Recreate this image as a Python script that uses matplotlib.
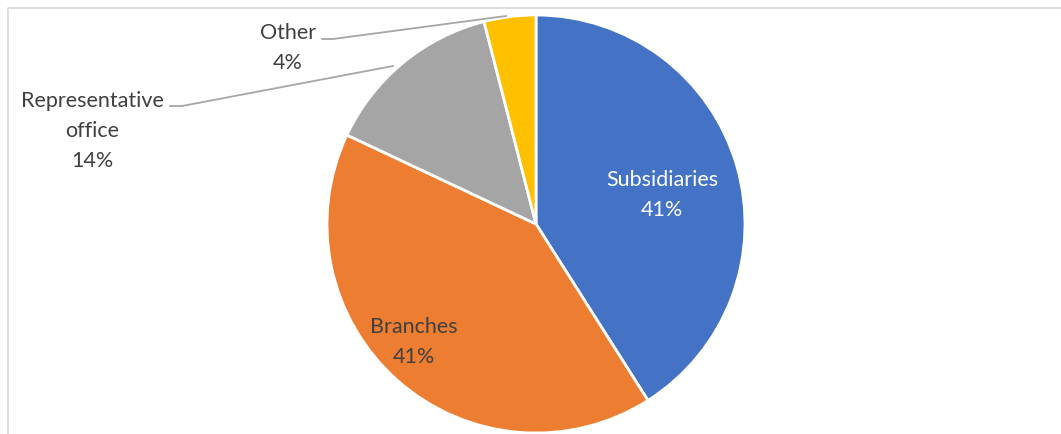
import matplotlib.pyplot as plt
from matplotlib.lines import Line2D

# Office types and their shares (%)
categories = ['Subsidiaries', 'Branches', 'Representative\noffice', 'Other']
shares = [41, 41, 14, 4]
colors = ['#4472C4', '#ED7D31', '#A5A5A5', '#FFC000']

W, H = 1061, 434
text_color = '#404040'

plt.rcParams['font.family'] = ['Lato', 'DejaVu Sans']

fig = plt.figure(figsize=(W / 100, H / 100), dpi=100)
ax = fig.add_axes([0, 0, 1, 1])

# pie in pixel coordinates (y measured from bottom)
cx, cy, r = 536, H - 224, 209
ax.pie(shares, colors=colors, startangle=90, counterclock=False,
       center=(cx, cy), radius=r, frame=True,
       wedgeprops=dict(edgecolor='white', linewidth=2))
ax.set_xlim(0, W)
ax.set_ylim(0, H)
ax.set_aspect('equal')
ax.axis('off')

def label(x, y, name, pct, color):
    ax.text(x, H - y, f'{name}\n{pct}%', ha='center', va='center',
            fontsize=15.5, color=color, linespacing=1.62)

label(662, 195, categories[0], shares[0], 'white')
label(414, 342, categories[1], shares[1], text_color)
label(92, 131, categories[2], shares[2], text_color)
label(288, 48, categories[3], shares[3], text_color)

# leader lines for the outside labels
lead = '#A6A6A6'
ax.add_line(Line2D([322, 333, 506], [H - 39, H - 39, H - 16], color=lead, lw=1.3))
ax.add_line(Line2D([170, 182, 393], [H - 106, H - 106, H - 66], color=lead, lw=1.3))

# chart area frame (only top and left edges visible)
ax.add_line(Line2D([7.5, 7.5, W], [0, H - 7.5, H - 7.5], color='#D9D9D9', lw=1.2))

fig.savefig('out.png', dpi=100)
